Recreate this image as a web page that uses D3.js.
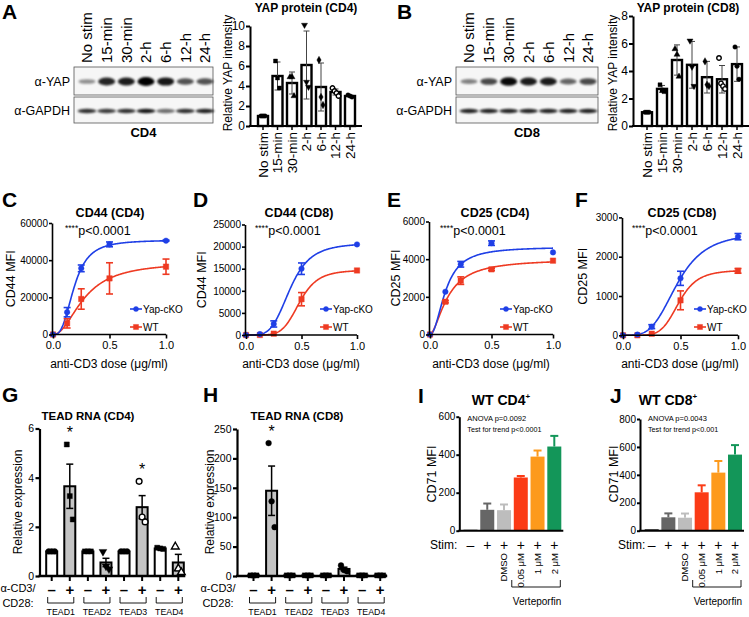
<!DOCTYPE html>
<html><head><meta charset="utf-8">
<script src="https://cdn.jsdelivr.net/npm/d3@7"></script>
<style>body{margin:0;background:#fff}svg{display:block}text{font-family:'Liberation Sans',Arial,Helvetica,sans-serif;fill:#000}</style>
</head><body><script>
// ================= DATA =================
const timeLabels = ["No stim","15-min","30-min","2-h","6-h","12-h","24-h"];
const blotCD4Yap   = [0.22, 0.8, 0.85, 1.0, 0.88, 0.55, 0.55];
const blotCD4Gapdh = [0.8, 0.75, 0.8, 0.9, 0.55, 0.8, 0.85];
const blotCD8Yap   = [0.3, 0.6, 0.95, 0.85, 0.85, 0.45, 0.6];
const blotCD8Gapdh = [0.85, 0.85, 0.85, 0.85, 0.85, 0.85, 0.85];

const yapCD4Mean = [1.0, 5.0, 4.3, 6.1, 3.9, 3.4, 3.0];
const yapCD4SD   = [0.05, 1.4, 1.1, 3.4, 2.4, 0.3, 0.1];
const yapCD4Pts  = [[1.0,1.0,1.0],[6.5,4.8,3.8],[4.9,4.9,3.0],[10.1,4.4,3.9],[6.6,2.9,2.1],[3.8,3.5,3.3,3.0],[3.1,3.0,2.9]];
const yapCD4Ticks = [0,2,4,6,8,10];
const yapCD8Mean = [1.0, 2.7, 4.8, 4.45, 3.55, 3.4, 4.5];
const yapCD8SD   = [0.05, 0.25, 1.1, 1.7, 1.15, 1.0, 1.25];
const yapCD8Pts  = [[1.0,1.0,1.0],[3.0,2.6,2.5],[5.6,5.2,3.6],[6.2,4.3,2.9],[4.7,3.0,2.9],[4.95,3.1,2.9,2.7],[5.75,4.35,3.4]];
const yapCD8Ticks = [0,2,4,6,8];
const yapShapes = ["circle","square","triangle","triangleDown","diamond","circleOpen","circle"];

const doses = [0, 0.125, 0.25, 0.5, 1.0];
const doseTicks = [0, 0.5, 1.0];
const cd44CD4Cko    = [0, 12000, 35600, 48500, 50500];
const cd44CD4CkoErr = [0, 2500, 1800, 1300, 300];
const cd44CD4Wt     = [0, 6000, 19100, 30200, 36500];
const cd44CD4WtErr  = [0, 2500, 5500, 8400, 4100];
const cd44CD4Fit    = [[50800, 0.187, 2.92], [39000, 0.277, 2.09]];
const cd44CD4Ticks  = [0, 20000, 40000, 60000];

const cd44CD8Cko    = [0, 200, 2500, 15000, 20500];
const cd44CD8CkoErr = [0, 0, 700, 1300, 0];
const cd44CD8Wt     = [0, 0, 300, 8100, 14600];
const cd44CD8WtErr  = [0, 0, 0, 1500, 0];
const cd44CD8Fit    = [[20800, 0.397, 4.28], [14700, 0.482, 5.9]];
const cd44CD8Ticks  = [0, 5000, 10000, 15000, 20000, 25000];

const cd25CD4Cko    = [0, 2270, 3730, 4850, 4360];
const cd25CD4CkoErr = [0, 0, 150, 120, 0];
const cd25CD4Wt     = [0, 1740, 2860, 3460, 3920];
const cd25CD4WtErr  = [0, 60, 200, 60, 0];
const cd25CD4Fit    = [[4650, 0.128, 2.07], [4000, 0.146, 1.7]];
const cd25CD4Ticks  = [0, 2000, 4000, 6000];

const cd25CD8Cko    = [0, 20, 220, 1450, 2510];
const cd25CD8CkoErr = [0, 0, 50, 180, 80];
const cd25CD8Wt     = [0, 0, 40, 890, 1640];
const cd25CD8WtErr  = [0, 0, 0, 240, 60];
const cd25CD8Fit    = [[2620, 0.472, 3.76], [1660, 0.486, 6.0]];
const cd25CD8Ticks  = [0, 1000, 2000, 3000];

const teadGroups = ["TEAD1","TEAD2","TEAD3","TEAD4"];
const stimSigns  = ["–","+","–","+","–","+","–","+"];
const teadCD4Mean = [1.0, 3.65, 1.0, 0.55, 1.0, 2.8, 1.12, 0.55];
const teadCD4SEM  = [0, 0.9, 0, 0.17, 0, 0.47, 0, 0.33];
const teadCD4Pts  = [[1,1,1],[5.35,3.25,2.3],[1,1,1],[0.99,0.4,0.28],[1,1,1],[3.85,2.4,2.2],[1.15,1.12,1.1],[1.19,0.3,0.15]];
const teadCD4Stars = ["","*","","","","*","",""];
const teadCD4Ticks = [0,2,4,6];
const teadCD8Mean = [1, 145, 1, 1, 1, 12, 1, 1];
const teadCD8SEM  = [0, 42, 0, 0, 0, 3, 0, 0];
const teadCD8Pts  = [[1,1,1],[226,127,83],[1,1,1],[1,1,1],[1,1,1],[18,10,8],[1,1,1],[1,1,1]];
const teadCD8Stars = ["","*","","","","","",""];
const teadCD8Ticks = [0,50,100,150,200,250];
const teadCD4Shapes = ["circle","square","square","triangleDown","circle","circleOpen","square","triangleOpen"];
const teadCD8Shapes = ["square","circle","square","square","square","circle","square","square"];

const cd71Signs  = ["–","+","+","+","+","+"];
const cd71Labels = ["","","DMSO","0.05 μM","1 μM","2 μM"];
const cd71CD4Mean = [5, 110, 108, 280, 390, 443];
const cd71CD4Err  = [0, 33, 30, 8, 32, 56];
const cd71CD4Ticks = [0,200,400,600];
const cd71CD8Mean = [10, 96, 93, 275, 416, 545];
const cd71CD8Err  = [0, 28, 30, 50, 83, 68];
const cd71CD8Ticks = [0,200,400,600,800];
const cd71Colors = ["#111111","#666666","#bdbdbd","#fb3b16","#fd9a1c","#139659"];

// ================= DRAWING =================
const FONT = "'Liberation Sans', Arial, Helvetica, sans-serif";
const BLUE = "#1f3fe6", RED = "#ee3a22";
const svg = d3.select("body").append("svg").attr("width",749).attr("height",617);
const defs = svg.append("defs");
defs.append("filter").attr("id","blur").attr("x","-50%").attr("y","-150%").attr("width","200%").attr("height","400%")
  .append("feGaussianBlur").attr("stdDeviation",1.3);

function text(g, x, y, s, size, o = {}) {
  const t = g.append("text").attr("font-size", size).text(s);
  if (o.rot) t.attr("transform", `translate(${x},${y}) rotate(-90)`);
  else t.attr("x", x).attr("y", y);
  if (o.anchor) t.attr("text-anchor", o.anchor);
  if (o.bold) t.attr("font-weight", "bold");
  if (o.dy) t.attr("dy", o.dy);
  return t;
}
function styleAxis(g, fs, sw) {
  g.attr("font-family", FONT).attr("font-size", fs);
  g.select(".domain").attr("stroke-width", sw).attr("stroke", "#000");
  g.selectAll(".tick line").attr("stroke-width", sw).attr("stroke", "#000");
  g.selectAll(".tick text").attr("fill", "#000");
}
function marker(g, shape, cx, cy, size, color) {
  let type = d3.symbolCircle, rot = 0, fill = color;
  if (shape === "square") type = d3.symbolSquare;
  if (shape === "triangle") type = d3.symbolTriangle;
  if (shape === "triangleDown") { type = d3.symbolTriangle; rot = 180; }
  if (shape === "diamond") type = d3.symbolDiamond;
  if (shape === "circleOpen") fill = "#fff";
  if (shape === "triangleOpen") { type = d3.symbolTriangle; fill = "#fff"; }
  g.append("path").attr("d", d3.symbol().type(type).size(size)())
    .attr("transform", `translate(${cx},${cy}) rotate(${rot})`)
    .attr("fill", fill).attr("stroke", color).attr("stroke-width", fill === "#fff" ? 1.4 : 0.4);
}
const intFmt = d3.format("d");

// ---- panel letters
[["A",2,19],["B",397,19],["C",2,207],["D",193,207],["E",387,207],["F",575,207],["G",2,402],["H",203,402],["I",418,403],["J",610,403]]
  .forEach(d => text(svg, d[1], d[2], d[0], 21, {bold: true}));

// ---- western blots
function drawBlot(x0, x1, laneRange, yap, gap, cell) {
  const g = svg.append("g");
  const lane = d3.scalePoint().domain(timeLabels).range(laneRange);
  timeLabels.forEach(l => text(g, lane(l), 63, l, 15, {rot: true, dy: "0.36em"}));
  g.append("rect").attr("x", x0).attr("y", 67).attr("width", x1 - x0).attr("height", 28)
    .attr("fill", "#f6f6f6").attr("stroke", "#555").attr("stroke-width", 0.8);
  g.append("rect").attr("x", x0).attr("y", 97).attr("width", x1 - x0).attr("height", 26)
    .attr("fill", "#f6f6f6").attr("stroke", "#555").attr("stroke-width", 0.8);
  yap.forEach((v, i) => g.append("ellipse").attr("cx", lane(timeLabels[i])).attr("cy", 81.5)
    .attr("rx", 8.5).attr("ry", 1.8 + 2.6 * v).attr("fill", "#000").attr("opacity", 0.25 + 0.75 * v).attr("filter", "url(#blur)"));
  gap.forEach((v, i) => g.append("ellipse").attr("cx", lane(timeLabels[i])).attr("cy", 111)
    .attr("rx", 9.5).attr("ry", 2.2).attr("fill", "#000").attr("opacity", v).attr("filter", "url(#blur)"));
  text(g, x0 - 4, 86, "α-YAP", 12.5, {anchor: "end"});
  text(g, x0 - 4, 115, "α-GAPDH", 12.5, {anchor: "end"});
  text(g, (x0 + x1) / 2, 137, cell, 13, {anchor: "middle", bold: true});
}
drawBlot(74, 213, [87, 205], blotCD4Yap, blotCD4Gapdh, "CD4");
drawBlot(456, 598, [469, 588], blotCD8Yap, blotCD8Gapdh, "CD8");

// ---- YAP bar charts
function yapBars(p) {
  const g = svg.append("g");
  const x = d3.scalePoint().domain(timeLabels).range([p.c0, p.c1]);
  const y = d3.scaleLinear().domain([0, p.yMax]).range([126, p.yTop]);
  p.mean.forEach((m, i) => {
    const cx = x(timeLabels[i]);
    g.append("rect").attr("x", cx - 5).attr("y", y(m)).attr("width", 10).attr("height", 126 - y(m))
      .attr("fill", "#fff").attr("stroke", "#000").attr("stroke-width", 2.4);
  });
  p.mean.forEach((m, i) => {
    const cx = x(timeLabels[i]), s = p.sd[i];
    if (s > 0.1) {
      g.append("line").attr("x1", cx).attr("x2", cx).attr("y1", y(Math.max(0, m - s))).attr("y2", y(m + s)).attr("stroke", "#444").attr("stroke-width", 1);
      [m + s, Math.max(0, m - s)].forEach(v => g.append("line").attr("x1", cx - 3).attr("x2", cx + 3).attr("y1", y(v)).attr("y2", y(v)).attr("stroke", "#444").attr("stroke-width", 1));
    }
    const pts = p.pts[i];
    pts.forEach((v, j) => marker(g, yapShapes[i], cx + (j - (pts.length - 1) / 2) * 2, y(v), 16, "#000"));
  });
  const ya = g.append("g").attr("transform", `translate(${p.ax},0)`)
    .call(d3.axisLeft(y).tickValues(p.ticks).tickSize(4).tickSizeOuter(0).tickPadding(1).tickFormat(intFmt));
  styleAxis(ya, 12, 2);
  g.append("line").attr("x1", p.ax - 1).attr("x2", p.c1 + 12).attr("y1", 126).attr("y2", 126).attr("stroke", "#000").attr("stroke-width", 2);
  timeLabels.forEach(l => {
    g.append("line").attr("x1", x(l)).attr("x2", x(l)).attr("y1", 126).attr("y2", 130).attr("stroke", "#000").attr("stroke-width", 1.5);
    text(g, x(l), 132, l, 13.5, {rot: true, anchor: "end", dy: "0.36em"});
  });
  text(g, p.labX, 73, "Relative YAP intensity", 12, {rot: true, anchor: "middle"});
  text(g, p.titleX, 12, p.title, 12, {anchor: "middle", bold: true});
}
yapBars({c0: 263, c1: 350, ax: 250, yMax: 10, yTop: 26, ticks: yapCD4Ticks, mean: yapCD4Mean, sd: yapCD4SD, pts: yapCD4Pts, labX: 231.5, titleX: 306, title: "YAP protein (CD4)"});
yapBars({c0: 647, c1: 737, ax: 633, yMax: 8, yTop: 16, ticks: yapCD8Ticks, mean: yapCD8Mean, sd: yapCD8SD, pts: yapCD8Pts, labX: 617, titleX: 688, title: "YAP protein (CD8)"});

// ---- dose response panels
function dosePanel(p) {
  const g = svg.append("g");
  const x = d3.scaleLinear().domain([0, 1]).range([p.ax + 1, p.x1]);
  const y = d3.scaleLinear().domain([0, p.yMax]).range([p.y0, p.yTop]);
  const hill = (d, f) => f[0] * Math.pow(d, f[2]) / (Math.pow(f[1], f[2]) + Math.pow(d, f[2]));
  const xs = d3.range(0, 1.0001, 0.005);
  const series = [[p.wt, p.wtErr, p.fit[1], RED, "square"], [p.cko, p.ckoErr, p.fit[0], BLUE, "circle"]];
  series.forEach(s => {
    g.append("path").datum(xs).attr("fill", "none").attr("stroke", s[3]).attr("stroke-width", 1.6)
      .attr("d", d3.line().x(d => x(d)).y(d => y(hill(d, s[2]))));
  });
  series.forEach(s => {
    doses.forEach((d, i) => {
      const v = s[0][i], e = s[1][i], cx = x(d);
      if (e > 0) {
        g.append("line").attr("x1", cx).attr("x2", cx).attr("y1", y(v - e)).attr("y2", y(v + e)).attr("stroke", s[3]).attr("stroke-width", 1.6);
        [v - e, v + e].forEach(w => g.append("line").attr("x1", cx - 3.5).attr("x2", cx + 3.5).attr("y1", y(w)).attr("y2", y(w)).attr("stroke", s[3]).attr("stroke-width", 1.6));
      }
      marker(g, s[4], cx, y(v), s[4] === "square" ? 30 : 24, s[3]);
    });
  });
  const ya = g.append("g").attr("transform", `translate(${p.ax},0)`)
    .call(d3.axisLeft(y).tickValues(p.ticks).tickSize(3).tickSizeOuter(0).tickPadding(1).tickFormat(intFmt));
  styleAxis(ya, 10, 1.6);
  const xa = g.append("g").attr("transform", `translate(0,${p.y0})`)
    .call(d3.axisBottom(x).tickValues(doseTicks).tickSize(4).tickSizeOuter(0).tickPadding(3).tickFormat(d3.format(".1f")));
  styleAxis(xa, 11, 1.6);
  xa.select(".domain").attr("d", `M${p.ax},0H${p.x1}`);
  text(g, (p.ax + p.x1) / 2, 368, "anti-CD3 dose (μg/ml)", 12, {anchor: "middle"});
  text(g, p.labX, (p.y0 + p.yTop) / 2, p.ylab, 12.5, {rot: true, anchor: "middle"});
  text(g, p.titleX, 217, p.title, 12.5, {anchor: "middle", bold: true});
  const t = g.append("text").attr("x", p.pX).attr("y", 235).attr("font-size", 12.5);
  t.append("tspan").attr("font-size", 8.5).attr("dy", -4).text("****");
  t.append("tspan").attr("dy", 4).text("p<0.0001");
  [["Yap-cKO", BLUE, "circle", 309], ["WT", RED, "square", 327]].forEach(l => {
    g.append("line").attr("x1", p.legX).attr("x2", p.legX + 12).attr("y1", l[3]).attr("y2", l[3]).attr("stroke", l[1]).attr("stroke-width", 1.6);
    marker(g, l[2], p.legX + 6, l[3], l[2] === "square" ? 26 : 20, l[1]);
    text(g, p.legX + 13, l[3], l[0], 10, {dy: "0.36em"});
  });
}
dosePanel({ax: 52, x1: 166, y0: 334.5, yTop: 223, yMax: 60000, ticks: cd44CD4Ticks, cko: cd44CD4Cko, ckoErr: cd44CD4CkoErr, wt: cd44CD4Wt, wtErr: cd44CD4WtErr, fit: cd44CD4Fit, labX: 15, ylab: "CD44 MFI", titleX: 110, title: "CD44 (CD4)", pX: 65, legX: 130});
dosePanel({ax: 245, x1: 357, y0: 335, yTop: 224.5, yMax: 25000, ticks: cd44CD8Ticks, cko: cd44CD8Cko, ckoErr: cd44CD8CkoErr, wt: cd44CD8Wt, wtErr: cd44CD8WtErr, fit: cd44CD8Fit, labX: 206, ylab: "CD44 MFI", titleX: 299, title: "CD44 (CD8)", pX: 255, legX: 320});
dosePanel({ax: 429, x1: 553, y0: 334.5, yTop: 221.5, yMax: 6000, ticks: cd25CD4Ticks, cko: cd25CD4Cko, ckoErr: cd25CD4CkoErr, wt: cd25CD4Wt, wtErr: cd25CD4WtErr, fit: cd25CD4Fit, labX: 400, ylab: "CD25 MFI", titleX: 495, title: "CD25 (CD4)", pX: 440, legX: 500});
dosePanel({ax: 622, x1: 738, y0: 335.3, yTop: 217.4, yMax: 3000, ticks: cd25CD8Ticks, cko: cd25CD8Cko, ckoErr: cd25CD8CkoErr, wt: cd25CD8Wt, wtErr: cd25CD8WtErr, fit: cd25CD8Fit, labX: 587, ylab: "CD25 MFI", titleX: 682, title: "CD25 (CD8)", pX: 632, legX: 694});

// ---- TEAD panels
function teadPanel(p) {
  const g = svg.append("g");
  const idx = d3.range(stimSigns.length);
  const x = d3.scalePoint().domain(idx).range([p.c0, p.c1]);
  const y = d3.scaleLinear().domain([0, p.yMax]).range([576, p.yTop]);
  p.mean.forEach((m, i) => {
    g.append("rect").attr("x", x(i) - 5.5).attr("y", y(m)).attr("width", 11).attr("height", 576 - y(m))
      .attr("fill", i % 2 ? "#c4c4c4" : "#fff").attr("stroke", "#000").attr("stroke-width", 2);
  });
  p.mean.forEach((m, i) => {
    const cx = x(i), s = p.sem[i];
    if (s > 0) {
      g.append("line").attr("x1", cx).attr("x2", cx).attr("y1", y(m - s)).attr("y2", y(m + s)).attr("stroke", "#000").attr("stroke-width", 1.5);
      [m - s, m + s].forEach(v => g.append("line").attr("x1", cx - 3.5).attr("x2", cx + 3.5).attr("y1", y(v)).attr("y2", y(v)).attr("stroke", "#000").attr("stroke-width", 1.5));
    }
    const pts = p.pts[i];
    pts.forEach((v, j) => marker(g, p.shapes[i], cx + (j - (pts.length - 1) / 2) * 3, y(v), 26, "#000"));
    if (p.stars[i]) text(g, cx, y(d3.max(pts)) - 6, p.stars[i], 16, {anchor: "middle"});
  });
  const ya = g.append("g").attr("transform", `translate(${p.ax},0)`)
    .call(d3.axisLeft(y).tickValues(p.ticks).tickSize(4).tickSizeOuter(0).tickPadding(1.5).tickFormat(intFmt));
  styleAxis(ya, 10.5, 2.2);
  g.append("line").attr("x1", p.ax - 1).attr("x2", p.c1 + 7).attr("y1", 576).attr("y2", 576).attr("stroke", "#000").attr("stroke-width", 2.5);
  idx.forEach(i => {
    g.append("line").attr("x1", x(i)).attr("x2", x(i)).attr("y1", 576).attr("y2", 581).attr("stroke", "#000").attr("stroke-width", 2);
    text(g, x(i), 590, stimSigns[i], 15, {anchor: "middle", bold: true, dy: "0.36em"});
  });
  text(g, p.lab0, 592, "α-CD3/", 11, {anchor: "middle"});
  text(g, p.lab0, 607, "CD28:", 11, {anchor: "middle"});
  teadGroups.forEach((t, k) => {
    const a = x(2 * k) - 4, b = x(2 * k + 1) + 4;
    g.append("path").attr("d", `M${a},597V603H${b}V597`).attr("fill", "none").attr("stroke", "#000").attr("stroke-width", 0.9);
    text(g, (a + b) / 2, 615, t, 8.8, {anchor: "middle"});
  });
  text(g, p.labX, 502, "Relative expression", 12, {rot: true, anchor: "middle"});
  text(g, p.titleX, 420, p.title, 11.5, {anchor: "middle", bold: true});
}
teadPanel({c0: 51.7, c1: 178.3, ax: 39.5, yMax: 6, yTop: 428.5, ticks: teadCD4Ticks, mean: teadCD4Mean, sem: teadCD4SEM, pts: teadCD4Pts, stars: teadCD4Stars, shapes: teadCD4Shapes, lab0: 18, labX: 22, titleX: 88, title: "TEAD RNA (CD4)"});
teadPanel({c0: 253.5, c1: 380.2, ax: 237, yMax: 250, yTop: 429, ticks: teadCD8Ticks, mean: teadCD8Mean, sem: teadCD8SEM, pts: teadCD8Pts, stars: teadCD8Stars, shapes: teadCD8Shapes, lab0: 218, labX: 214, titleX: 297, title: "TEAD RNA (CD8)"});

// ---- CD71 panels
function cd71Panel(p) {
  const g = svg.append("g");
  const idx = d3.range(cd71Signs.length);
  const x = d3.scalePoint().domain(idx).range([p.c0, p.c1]);
  const y = d3.scaleLinear().domain([0, p.yMax]).range([530.7, p.yTop]);
  p.mean.forEach((m, i) => {
    const cx = x(i), e = p.err[i], col = cd71Colors[i];
    g.append("rect").attr("x", cx - 7).attr("y", y(m)).attr("width", 14).attr("height", 530.7 - y(m)).attr("fill", col);
    if (e > 0) {
      g.append("line").attr("x1", cx).attr("x2", cx).attr("y1", y(m)).attr("y2", y(m + e)).attr("stroke", col).attr("stroke-width", 2);
      g.append("line").attr("x1", cx - 4).attr("x2", cx + 4).attr("y1", y(m + e)).attr("y2", y(m + e)).attr("stroke", col).attr("stroke-width", 2);
    }
    text(g, cx, 545, cd71Signs[i], 14, {anchor: "middle", dy: "0.36em"});
    if (cd71Labels[i]) text(g, cx, 553, cd71Labels[i], 9.5, {rot: true, anchor: "end", dy: "0.36em"});
  });
  const ya = g.append("g").attr("transform", `translate(${p.ax},0)`)
    .call(d3.axisLeft(y).tickValues(p.ticks).tickSize(3).tickSizeOuter(0).tickPadding(1).tickFormat(intFmt));
  styleAxis(ya, 10, 2);
  g.append("line").attr("x1", p.ax - 1).attr("x2", p.c1 + 9).attr("y1", 530.7).attr("y2", 530.7).attr("stroke", "#000").attr("stroke-width", 2);
  text(g, p.stimX, 549, "Stim:", 12);
  const a = x(3) - 9, b = x(5) + 6;
  g.append("path").attr("d", `M${a},580V587H${b}V580`).attr("fill", "none").attr("stroke", "#000").attr("stroke-width", 0.9);
  text(g, (a + b) / 2 + 1, 605, "Verteporfin", 10, {anchor: "middle"});
  text(g, p.ax + 8, 421, p.anova, 7.5);
  text(g, p.ax + 8, 432, p.trend, 7.2);
  text(g, p.labX, 474, "CD71 MFI", 12.5, {rot: true, anchor: "middle"});
  const t = g.append("text").attr("x", p.titleX).attr("y", 405).attr("font-size", 14).attr("font-weight", "bold").attr("text-anchor", "middle");
  t.append("tspan").text(p.title);
  t.append("tspan").attr("font-size", 8).attr("dy", -6).text("+");
}
cd71Panel({c0: 470.5, c1: 554.3, ax: 459.3, yMax: 600, yTop: 416.7, ticks: cd71CD4Ticks, mean: cd71CD4Mean, err: cd71CD4Err, stimX: 430, anova: "ANOVA p=0.0092", trend: "Test for trend p<0.0001", labX: 436, titleX: 501, title: "WT CD4"});
cd71Panel({c0: 651.7, c1: 735, ax: 640, yMax: 800, yTop: 419, ticks: cd71CD8Ticks, mean: cd71CD8Mean, err: cd71CD8Err, stimX: 618, anova: "ANOVA p=0.0043", trend: "Test for trend p<0.001", labX: 618, titleX: 668, title: "WT CD8"});
</script></body></html>
